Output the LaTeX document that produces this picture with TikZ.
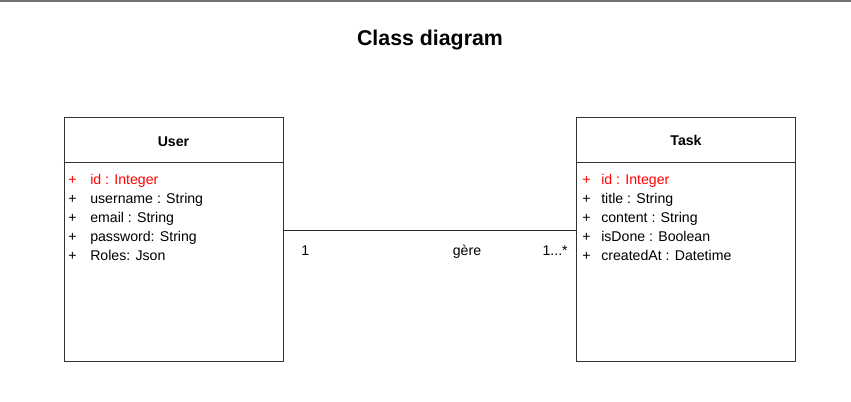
\documentclass[tikz,border=0pt]{standalone}
\usepackage{fontspec}
\setmainfont{Liberation Sans}
\usetikzlibrary{positioning}

\tikzset{
  classbox/.style={draw=black!80, line width=0.75pt, rectangle, minimum width=164.25pt, minimum height=183pt, inner sep=0pt},
  attr/.style={anchor=base west, inner sep=0pt, font=\fontsize{10.6}{12}\selectfont},
  idattr/.style={attr, text=red},
  classname/.style={anchor=base, inner sep=0pt, font=\fontsize{10.6}{12}\selectfont\bfseries},
  multlabel/.style={inner sep=0pt, font=\fontsize{10.6}{12}\selectfont}
}

\begin{document}
\begin{tikzpicture}[x=0.75pt, y=-0.75pt]

\useasboundingbox (0,0) rectangle (851,401);
\fill[white] (0,0) rectangle (851,401);
\draw[black!55, line width=1pt] (0,1) -- (851,1);

% title
\node[anchor=base, inner sep=0pt, font=\fontsize{16}{18}\selectfont\bfseries] (title) at (430,45) {Class diagram};

% User class
\begin{scope}{
\node[classbox] (user) at (173.5,239) {};
\draw[black!80, line width=0.75pt] ([yshift=-34.5pt]user.north west) -- ([yshift=-34.5pt]user.north east);

\node[classname] (userName) at (173.5,146) {User};

\node[idattr] (userIdP) at (68,184) {+};
\node[idattr] (userId) at (90,184) {id : Integer};
\node[attr] (userUsernameP) at (68,203) {+};
\node[attr] (userUsername) at (90,203) {username : String};
\node[attr] (userEmailP) at (68,222) {+};
\node[attr] (userEmail) at (90,222) {email : String};
\node[attr] (userPasswordP) at (68,241) {+};
\node[attr] (userPassword) at (90,241) {password: String};
\node[attr] (userRolesP) at (68,260) {+};
\node[attr] (userRoles) at (90,260) {Roles: Json};
} \end{scope}

% Task class
\begin{scope}{
\node[classbox] (task) at (686,239) {};
\draw[black!80, line width=0.75pt] ([yshift=-34.5pt]task.north west) -- ([yshift=-34.5pt]task.north east);

\node[classname] (taskName) at (686,145) {Task};

\node[idattr] (taskIdP) at (582,184) {+};
\node[idattr] (taskId) at (601,184) {id : Integer};
\node[attr] (taskTitleP) at (582,203) {+};
\node[attr] (taskTitle) at (601,203) {title : String};
\node[attr] (taskContentP) at (582,222) {+};
\node[attr] (taskContent) at (601,222) {content : String};
\node[attr] (taskIsDoneP) at (582,241) {+};
\node[attr] (taskIsDone) at (601,241) {isDone : Boolean};
\node[attr] (taskCreatedAtP) at (582,260) {+};
\node[attr] (taskCreatedAt) at (601,260) {createdAt : Datetime};
} \end{scope}

% association
\draw[black!85, line width=0.75pt] ([yshift=6.75pt]user.east) -- ([yshift=6.75pt]task.west);

% nodes
{
\node[multlabel, anchor=base west] (multUser) at (301,255) {1};
\node[multlabel, anchor=base] (assocName) at (467,255) {gère};
\node[multlabel, anchor=base east] (multTask) at (568,255) {1...*};
}

\end{tikzpicture}
\end{document}
